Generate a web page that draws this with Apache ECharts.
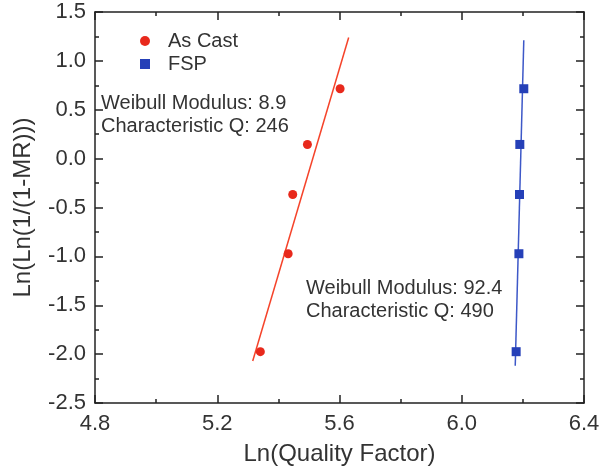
<!DOCTYPE html>
<html>
<head>
<meta charset="utf-8">
<script src="https://cdn.jsdelivr.net/npm/echarts@6/dist/echarts.min.js"></script>
<style>
html,body{margin:0;padding:0;background:#fff;}
#c{width:603px;height:471px;}
</style>
</head>
<body>
<div id="c"></div>
<script>
// Data
var asCastX = [5.341, 5.432, 5.447, 5.495, 5.602];
var asCastY = [-1.975, -0.973, -0.367, 0.145, 0.715];
var fspX = [6.178, 6.187, 6.189, 6.190, 6.203];
var fspY = [-1.975, -0.973, -0.367, 0.145, 0.715];
var asCastFitX = [5.316, 5.630];
var asCastFitY = [-2.07, 1.24];
var fspFitX = [6.175, 6.203];
var fspFitY = [-2.12, 1.21];
var xTicks = [4.8, 5.2, 5.6, 6.0, 6.4];
var yTicks = [-2.5, -2.0, -1.5, -1.0, -0.5, 0.0, 0.5, 1.0, 1.5];
var annotations = [
  ["Weibull Modulus: 8.9", "Characteristic Q: 246"],
  ["Weibull Modulus: 92.4", "Characteristic Q: 490"]
];

function zip(a, b) { return a.map(function (v, i) { return [v, b[i]]; }); }

var FONT = 'Liberation Sans';
var TXT = '#333';
var AX = '#222';

var chart = echarts.init(document.getElementById('c'), null, {renderer: 'canvas'});

function axisCommon(showLabel) {
  return {
    axisLine: {show: true, onZero: false, lineStyle: {color: AX, width: 1.5}},
    axisTick: {show: true, inside: true, length: 8, lineStyle: {color: AX, width: 1.5}},
    minorTick: {show: true, splitNumber: 2, length: 4, lineStyle: {color: AX, width: 1.5}},
    splitLine: {show: false},
    axisLabel: {show: showLabel}
  };
}

var xMain = Object.assign(axisCommon(true), {
  type: 'value', position: 'bottom', min: xTicks[0], max: xTicks[xTicks.length - 1], interval: 0.4,
  name: 'Ln(Quality Factor)', nameLocation: 'middle', nameGap: 39,
  nameTextStyle: {fontFamily: FONT, fontSize: 24, color: TXT}
});
xMain.axisLabel = {show: true, margin: 10, fontFamily: FONT, fontSize: 22, color: TXT,
  formatter: function (v) { return v.toFixed(1); }};
var xTop = Object.assign(axisCommon(false), {
  type: 'value', position: 'top', min: xTicks[0], max: xTicks[xTicks.length - 1], interval: 0.4
});
var yMain = Object.assign(axisCommon(true), {
  type: 'value', position: 'left', min: yTicks[0], max: yTicks[yTicks.length - 1], interval: 0.5,
  name: 'Ln(Ln(1/(1-MR)))', nameLocation: 'middle', nameRotate: 90, nameGap: 60,
  nameTextStyle: {fontFamily: FONT, fontSize: 24, color: TXT}
});
yMain.axisLabel = {show: true, margin: 9, fontFamily: FONT, fontSize: 22, color: TXT,
  formatter: function (v) { return v.toFixed(1); }};
var yRight = Object.assign(axisCommon(false), {
  type: 'value', position: 'right', min: yTicks[0], max: yTicks[yTicks.length - 1], interval: 0.5
});

var option = {
  backgroundColor: '#fff',
  animation: false,
  grid: {left: 95, right: 19, top: 12, bottom: 67, containLabel: false},
  xAxis: [xMain, xTop],
  yAxis: [yMain, yRight],
  legend: {
    data: [{name: 'As Cast', icon: 'circle'}, {name: 'FSP', icon: 'rect'}],
    orient: 'vertical', left: 135, top: 26, itemWidth: 10, itemHeight: 10, itemGap: 3,
    textStyle: {fontFamily: FONT, fontSize: 20, color: TXT, padding: [0, 0, 0, 13], lineHeight: 20}
  },
  graphic: [
    {type: 'text', left: 101, top: 92, style: {text: annotations[0].join('\n'), font: '20px ' + FONT, fill: TXT, lineHeight: 23}},
    {type: 'text', left: 306, top: 277, style: {text: annotations[1].join('\n'), font: '20px ' + FONT, fill: TXT, lineHeight: 23}}
  ],
  series: [
    {name: 'As Cast fit', type: 'line', data: zip(asCastFitX, asCastFitY), symbol: 'none',
      lineStyle: {color: '#f5432a', width: 1.5}, z: 2},
    {name: 'FSP fit', type: 'line', data: zip(fspFitX, fspFitY), symbol: 'none',
      lineStyle: {color: '#3d58c8', width: 1.5}, z: 2},
    {name: 'As Cast', type: 'scatter', data: zip(asCastX, asCastY), symbol: 'circle', symbolSize: 9,
      itemStyle: {color: '#e8291c', opacity: 1}, z: 3},
    {name: 'FSP', type: 'scatter', data: zip(fspX, fspY), symbol: 'rect', symbolSize: 9,
      itemStyle: {color: '#2540b8', opacity: 1}, z: 3}
  ]
};
chart.setOption(option);
</script>
</body>
</html>
